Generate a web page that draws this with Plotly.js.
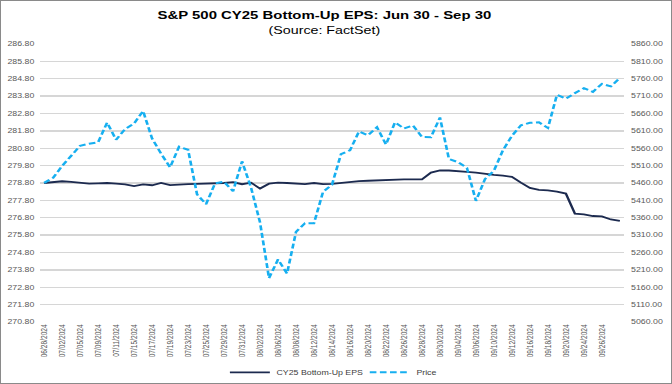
<!DOCTYPE html>
<html><head><meta charset="utf-8">
<script src="https://cdn.plot.ly/plotly-3.0.1.min.js"></script>
<style>
html,body{margin:0;padding:0;background:#fff;}
#frame{width:672px;height:384px;box-sizing:border-box;border:1px solid #8a8a8a;overflow:hidden;position:relative;background:#fff;}
#chart{width:503px;height:382px;transform:scaleX(1.332);transform-origin:0 0;}
</style></head><body>
<div id="frame"><div id="chart"></div></div>
<script>
const dates = ["06/28/2024","07/01/2024","07/02/2024","07/03/2024","07/05/2024","07/08/2024","07/09/2024","07/10/2024","07/11/2024","07/12/2024",
"07/15/2024","07/16/2024","07/17/2024","07/18/2024","07/19/2024","07/22/2024","07/23/2024","07/24/2024","07/25/2024","07/26/2024",
"07/29/2024","07/30/2024","07/31/2024","08/01/2024","08/02/2024","08/05/2024","08/06/2024","08/07/2024","08/08/2024","08/09/2024",
"08/12/2024","08/13/2024","08/14/2024","08/15/2024","08/16/2024","08/19/2024","08/20/2024","08/21/2024","08/22/2024","08/23/2024",
"08/26/2024","08/27/2024","08/28/2024","08/29/2024","08/30/2024","09/03/2024","09/04/2024","09/05/2024","09/06/2024","09/09/2024",
"09/10/2024","09/11/2024","09/12/2024","09/13/2024","09/16/2024","09/17/2024","09/18/2024","09/19/2024","09/20/2024","09/23/2024",
"09/24/2024","09/25/2024","09/26/2024","09/27/2024","09/30/2024"];
const epsValues = [278.80,278.85,278.90,278.87,278.83,278.76,278.78,278.80,278.76,278.72,
278.62,278.72,278.67,278.80,278.68,278.72,278.73,278.75,278.76,278.77,
278.80,278.85,278.73,278.82,278.48,278.76,278.82,278.80,278.76,278.74,
278.80,278.73,278.75,278.80,278.88,278.91,278.93,278.95,279.00,279.01,
279.01,279.01,279.01,279.40,279.52,279.52,279.50,279.44,279.40,279.32,
279.27,279.22,279.15,278.82,278.52,278.40,278.38,278.30,278.19,277.04,
277.00,276.90,276.88,276.70,276.62];
const priceValues = [5460.48,5475.09,5509.01,5537.02,5567.19,5572.85,5576.98,5633.91,5584.54,5615.35,
5631.22,5667.20,5588.27,5544.59,5505.00,5564.41,5555.74,5427.13,5399.22,5459.10,
5463.54,5436.44,5522.30,5446.68,5346.56,5186.33,5240.03,5199.50,5319.31,5344.16,
5344.39,5434.43,5455.21,5543.22,5554.25,5608.25,5597.12,5620.85,5570.64,5634.61,
5616.84,5625.80,5592.18,5591.96,5648.40,5528.93,5520.07,5503.41,5408.42,5471.05,
5495.52,5554.13,5595.76,5626.02,5633.09,5634.58,5618.26,5713.64,5702.55,5718.57,
5732.93,5722.26,5745.37,5738.17,5762.48];
const xTickLabels = ["06/28/2024","07/02/2024","07/05/2024","07/09/2024","07/11/2024","07/15/2024","07/17/2024","07/19/2024",
"07/23/2024","07/25/2024","07/29/2024","07/31/2024","08/02/2024","08/06/2024","08/08/2024","08/12/2024",
"08/14/2024","08/16/2024","08/20/2024","08/22/2024","08/26/2024","08/28/2024","08/30/2024","09/04/2024",
"09/06/2024","09/10/2024","09/12/2024","09/16/2024","09/18/2024","09/20/2024","09/24/2024","09/26/2024"];
const seriesNames = ["CY25 Bottom-Up EPS","Price"];

const FONT = "Liberation Sans, Arial, sans-serif";
const tickFont = {family: FONT, size: 6.6, color: "#595959"};

const traces = [
  {x: dates, y: epsValues, name: seriesNames[0], type: "scatter", mode: "lines",
   line: {color: "#1c2a4f", width: 1.8}, yaxis: "y"},
  {x: dates, y: priceValues, name: seriesNames[1], type: "scatter", mode: "lines",
   line: {color: "#16aff0", width: 2, dash: "5px,2.6px"}, yaxis: "y2"}
];

const layout = {
  width: 503, height: 382,
  margin: {l: 29.3, r: 34.5, t: 43, b: 61.3, autoexpand: false},
  paper_bgcolor: "#ffffff", plot_bgcolor: "#ffffff",
  font: {family: FONT, color: "#595959"},
  title: {
    text: "<b>S&P 500 CY25 Bottom-Up EPS: Jun 30 - Sep 30</b><br><span style='font-size:10.7px'>(Source: FactSet)</span>",
    font: {family: FONT, size: 11.2, color: "#000000"},
    x: 0.487, xanchor: "center", xref: "paper",
    y: 0.953, yanchor: "top", yref: "container"
  },
  xaxis: {
    type: "category", range: [-0.5, 64.5],
    tickmode: "array", tickvals: xTickLabels, ticktext: xTickLabels,
    tickangle: -90, tickfont: tickFont, showgrid: false, zeroline: false,
    showline: false, ticks: "", automargin: false, fixedrange: true
  },
  yaxis: {
    range: [270.8, 286.8], dtick: 1, tick0: 270.8, tickformat: ".2f",
    tickfont: tickFont, showgrid: true, gridcolor: "#d6d6d6", gridwidth: 1.3,
    zeroline: false, showline: false, ticks: "", automargin: false, ticklabelstandoff: 3
  },
  yaxis2: {
    range: [5060, 5860], dtick: 50, tick0: 5060, tickformat: ".2f",
    overlaying: "y", side: "right", tickfont: tickFont, showgrid: false,
    zeroline: false, showline: false, ticks: "", automargin: false, ticklabelstandoff: 4
  },
  showlegend: true,
  legend: {
    orientation: "h", x: 0.314, xanchor: "left", y: -0.181, yanchor: "middle",
    entrywidth: 60, entrywidthmode: "pixels",
    font: {family: FONT, size: 6.6, color: "#404040"}, bgcolor: "rgba(0,0,0,0)"
  }
};

Plotly.newPlot("chart", traces, layout, {staticPlot: true, displayModeBar: false});
</script>
</body></html>
